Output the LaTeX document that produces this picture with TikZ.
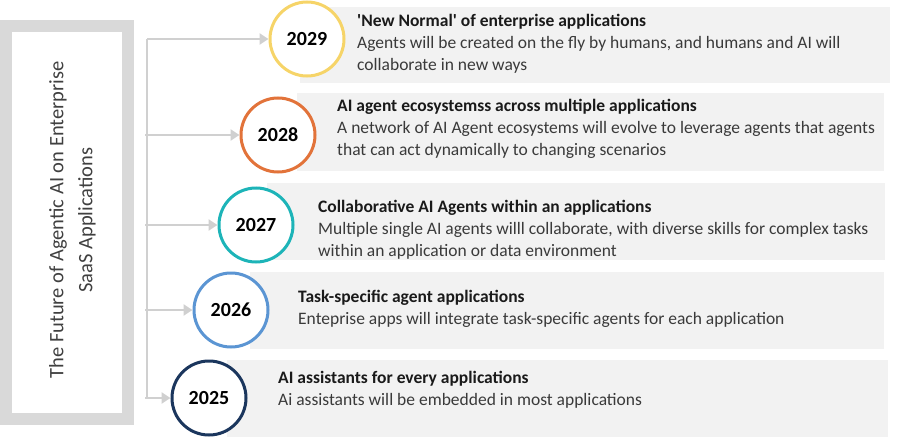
\documentclass[tikz,border=0pt]{standalone}
\usepackage{fontspec}
\newfontfamily\cf{Carlito}
\usetikzlibrary{arrows.meta}
\definecolor{boxgray}{HTML}{F2F2F2}
\definecolor{framegray}{HTML}{D9D9D9}
\definecolor{arrowgray}{HTML}{D0D0D0}
\definecolor{cyellow}{HTML}{F6D468}
\definecolor{corange}{HTML}{E2733A}
\definecolor{cteal}{HTML}{1DB4B8}
\definecolor{cblue}{HTML}{5B95D3}
\definecolor{cnavy}{HTML}{1B365D}
\definecolor{titlecol}{HTML}{1A1A1A}
\definecolor{bodycol}{HTML}{3A3A3A}
\definecolor{sidecol}{HTML}{404040}
\begin{document}
\begin{tikzpicture}[x=1pt,y=-1pt,
  yearnode/.style={circle, draw=#1, line width=3pt, fill=white, minimum size=74pt, inner sep=0pt, font=\cf\bfseries\fontsize{20}{24}\selectfont, text=black},
  titletext/.style={anchor=base west, inner sep=0pt, font=\cf\bfseries\fontsize{17.5}{22}\selectfont, text=titlecol},
  bodytext/.style={anchor=base west, inner sep=0pt, font=\cf\fontsize{17.5}{22}\selectfont, text=bodycol},
  connector/.style={draw=arrowgray, line width=2.5pt},
  arrowline/.style={connector, -{Triangle[length=9pt,width=11pt]}},
  panel/.style={fill=boxgray}
]
\useasboundingbox (0,0) rectangle (900,447);
% left frame
\node[draw=framegray, line width=12pt, minimum width=122pt, minimum height=393pt, inner sep=0pt] (frame) at (67,222.5) {};
\node[rotate=90, align=center, inner sep=0pt, font=\cf\fontsize{20.5}{29}\selectfont, text=sidecol] (side) at (72.5,220) {The Future of Agentic AI on Enterprise\\SaaS Applications};
% panels
\fill[panel] (300,7) rectangle (890,83);
\fill[panel] (297,93) rectangle (884,171);
\fill[panel] (267,183) rectangle (885,260);
\fill[panel] (250,272) rectangle (884,349);
\fill[panel] (227,360) rectangle (888,437);
% circles
\node[yearnode=cyellow] (c2029) at (307,39) {2029};
\node[yearnode=corange] (c2028) at (278,135) {2028};
\node[yearnode=cteal] (c2027) at (256,225) {2027};
\node[yearnode=cblue] (c2026) at (231,310) {2026};
\node[yearnode=cnavy] (c2025) at (209,398) {2025};
% connectors
\coordinate (top) at (147,39);
\coordinate (s2028) at (145,135);
\coordinate (s2027) at (145,225);
\coordinate (s2026) at (145,310);
\coordinate (s2025) at (145,398);
\draw[connector] (top) -- (147,398);
\draw[arrowline] (top) -- (c2029.west);
\draw[arrowline] (s2028) -- (c2028.west);
\draw[arrowline] (s2027) -- (c2027.west);
\draw[arrowline] (s2026) -- (c2026.west);
\draw[arrowline] (s2025) -- (c2025.west);
% texts
\node[titletext] (t2029) at (357,26) {'New Normal' of enterprise applications};
\node[bodytext] (b2029a) at (357,48) {Agents will be created on the fly by humans, and humans and AI will};
\node[bodytext] (b2029b) at (357,70) {collaborate in new ways};
\node[titletext] (t2028) at (337,111) {AI agent ecosystemss across multiple applications};
\node[bodytext] (b2028a) at (337,133) {A network of AI Agent ecosystems will evolve to leverage agents that agents};
\node[bodytext] (b2028b) at (337,155) {that can act dynamically to changing scenarios};
\node[titletext] (t2027) at (318,212) {Collaborative AI Agents within an applications};
\node[bodytext] (b2027a) at (318,234) {Multiple single AI agents willl collaborate, with diverse skills for complex tasks};
\node[bodytext] (b2027b) at (318,256) {within an application or data environment};
\node[titletext] (t2026) at (298,302) {Task-specific agent applications};
\node[bodytext] (b2026a) at (298,324) {Enteprise apps will integrate task-specific agents for each application};
\node[titletext] (t2025) at (278,383) {AI assistants for every applications};
\node[bodytext] (b2025a) at (278,405) {Ai assistants will be embedded in most applications};
\end{tikzpicture}
\end{document}
